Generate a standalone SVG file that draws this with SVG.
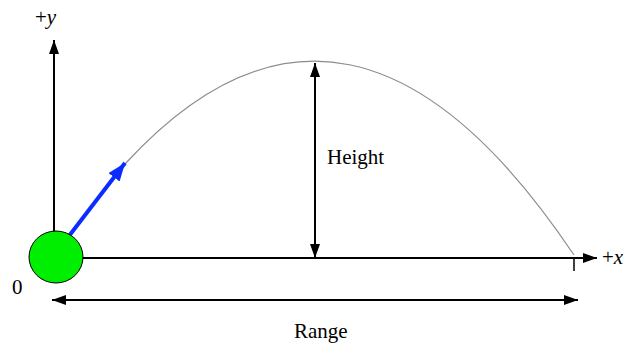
<svg xmlns="http://www.w3.org/2000/svg" width="624" height="345" viewBox="0 0 624 345">
<style>
.ax{stroke:#000;stroke-width:2;fill:none}
.t{font-family:'Liberation Serif','Times New Roman','DejaVu Serif',serif;font-size:21px;fill:#000}
</style>
<defs>
<marker id="ah" viewBox="0 0 14 10" refX="14" refY="5" markerWidth="14" markerHeight="10" markerUnits="userSpaceOnUse" orient="auto-start-reverse">
<path d="M0,0 L14,5 L0,10 z" fill="#000"/>
</marker>
<marker id="bh" viewBox="0 0 18 14" refX="18" refY="7" markerWidth="18" markerHeight="14" markerUnits="userSpaceOnUse" orient="auto">
<path d="M0,0 L18,7 L0,14 z" fill="#0a2cff"/>
</marker>
</defs>
<g id="connectors">
<path id="trajectory" d="M125,164 Q349.5,-80 574,255" fill="none" stroke="#8c8c8c" stroke-width="1.2"/>
<line id="y-axis" class="ax" x1="54" y1="258" x2="54" y2="40" marker-end="url(#ah)"/>
<line id="x-axis" class="ax" x1="80" y1="258" x2="597" y2="258" marker-end="url(#ah)"/>
<line id="tick" stroke="#000" stroke-width="1.5" x1="574" y1="258" x2="574" y2="271"/>
<line id="height" class="ax" x1="315" y1="63" x2="315" y2="258" marker-start="url(#ah)" marker-end="url(#ah)"/>
<line id="range" class="ax" x1="52" y1="300" x2="578" y2="300" marker-start="url(#ah)" marker-end="url(#ah)"/>
<line id="velocity" stroke="#0a2cff" stroke-width="4" x1="69" y1="236" x2="125" y2="163" marker-end="url(#bh)"/>
</g>
<g id="ball">
<ellipse cx="56" cy="257" rx="27" ry="26" fill="#00ee00" stroke="#000" stroke-width="1"/>
</g>
<g id="labels">
<text class="t" x="35" y="24">+<tspan font-style="italic">y</tspan></text>
<text class="t" x="602" y="264">+<tspan font-style="italic">x</tspan></text>
<text class="t" x="12" y="294">0</text>
<text class="t" x="327" y="164">Height</text>
<text class="t" x="294" y="338">Range</text>
</g>
</svg>
